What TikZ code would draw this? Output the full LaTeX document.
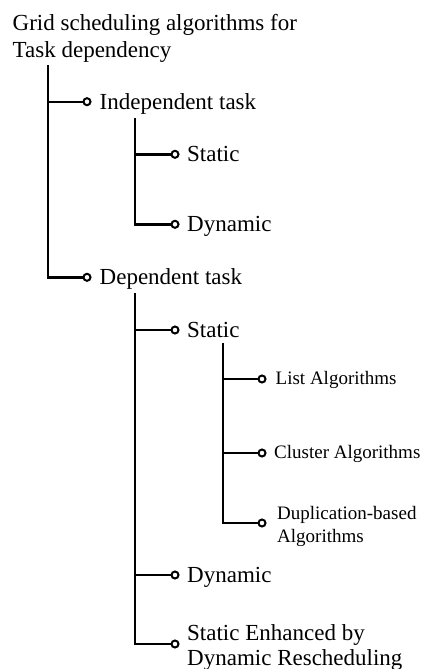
\documentclass[tikz,border=0pt]{standalone}
\usepackage{fontspec}
\setmainfont{Liberation Serif}
\begin{document}
\begin{tikzpicture}[x=1pt,y=-1pt,
  conn/.style={line width=2.4pt},
  dot/.style={circle,draw,line width=2pt,fill=white,minimum size=7pt,inner sep=0pt},
  big/.style={font=\fontsize{23}{27}\selectfont,inner sep=0pt,anchor=base west,align=left},
  bigb/.style={font=\fontsize{23}{25}\selectfont,inner sep=0pt,anchor=base west,align=left},
  small/.style={font=\fontsize{19}{23}\selectfont,inner sep=0pt,anchor=base west,align=left}]
\useasboundingbox[fill=white] (0,0) rectangle (424,669);

\node[big] (root) at (12.5,58) {Grid scheduling algorithms for\\Task dependency};

\coordinate (v0) at (48,65);
\node[dot] (ind) at (87,101.7) {};
\node[big] (indt) at (99.5,109.3) {Independent task};
\coordinate (v1) at (135,118);
\node[dot] (is) at (175,154.3) {};
\node[big] (ist) at (187,161.8) {Static};
\node[dot] (id) at (175,224.3) {};
\node[big] (idt) at (187,231.8) {Dynamic};
\node[dot] (dep) at (87,277.3) {};
\node[big] (dept) at (99.5,284.8) {Dependent task};
\coordinate (v2) at (135,293);
\node[dot] (ds) at (175,330) {};
\node[big] (dst) at (187,337.5) {Static};
\coordinate (v3) at (223,343);
\node[dot] (la) at (262,379) {};
\node[small] (lat) at (275.5,384) {List Algorithms};
\node[dot] (ca) at (262,453) {};
\node[small] (cat) at (274,458) {Cluster Algorithms};
\node[dot] (da) at (262,523) {};
\node[small] (dat) at (277,542) {Duplication-based\\Algorithms};
\node[dot] (dd) at (175,575) {};
\node[big] (ddt) at (187,582.5) {Dynamic};
\node[dot] (se) at (175,644) {};
\node[bigb] (set) at (187,665) {Static Enhanced by\\Dynamic Rescheduling};

\draw[conn] (v0) |- (dep.west);
\draw[conn] (v0 |- ind) -- (ind.west);
\draw[conn] (v1) |- (id.west);
\draw[conn] (v1 |- is) -- (is.west);
\draw[conn] (v2) |- (se.west);
\draw[conn] (v2 |- ds) -- (ds.west);
\draw[conn] (v2 |- dd) -- (dd.west);
\draw[conn] (v3) |- (da.west);
\draw[conn] (v3 |- la) -- (la.west);
\draw[conn] (v3 |- ca) -- (ca.west);
\end{tikzpicture}
\end{document}
